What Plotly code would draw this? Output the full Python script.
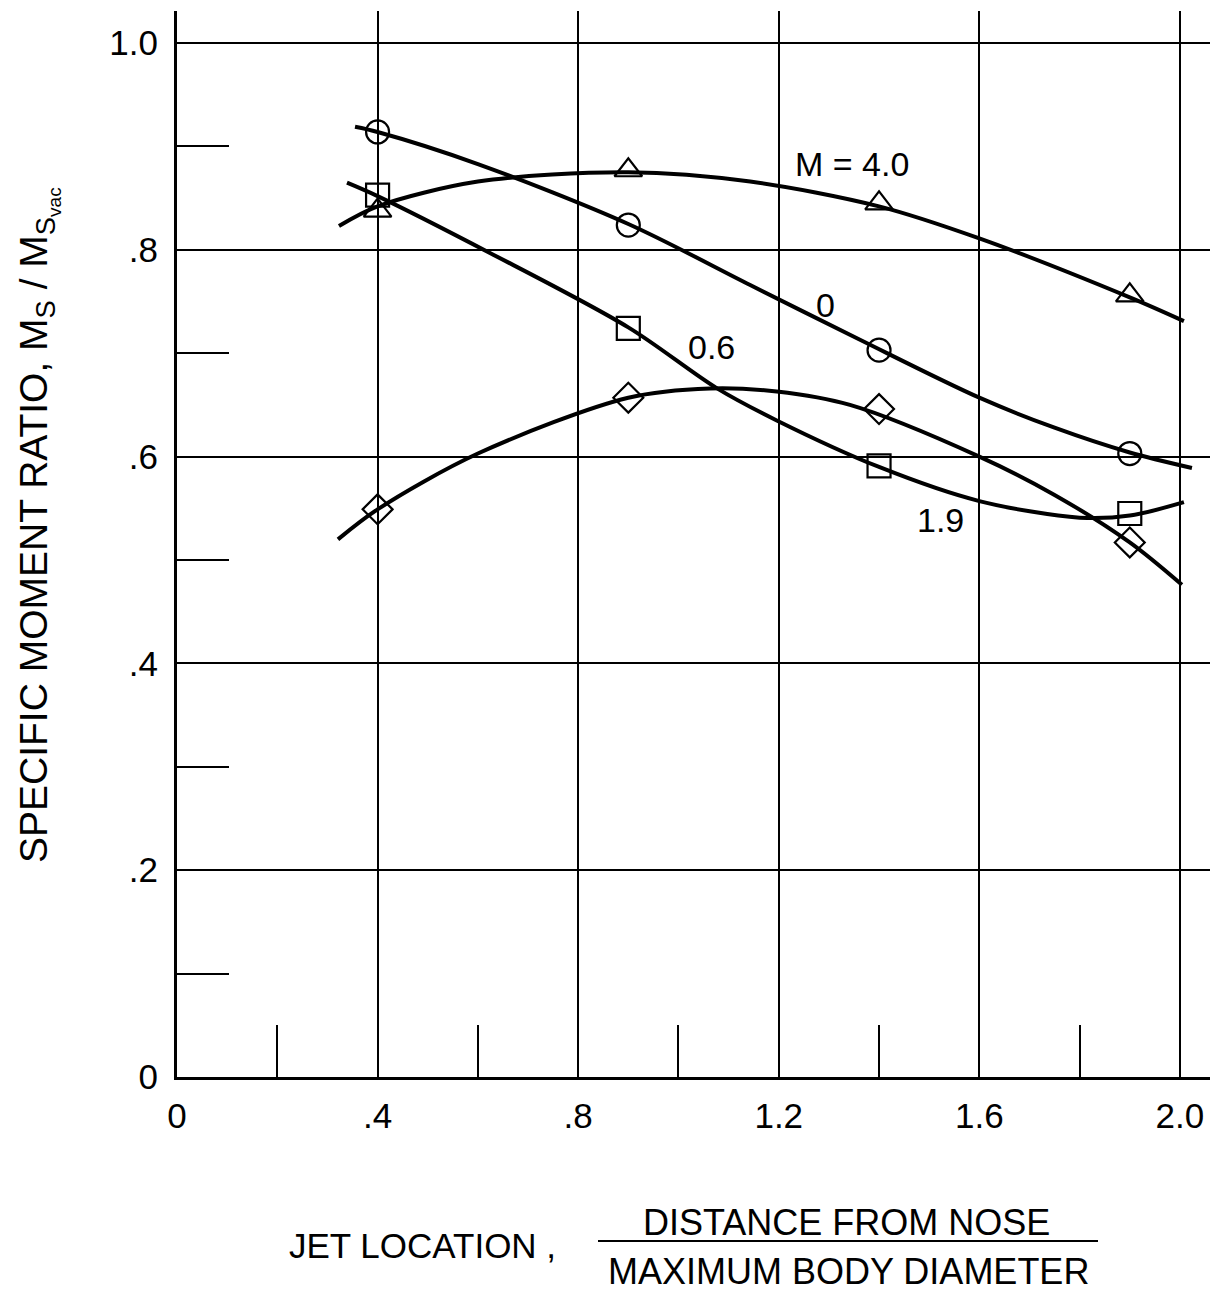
import plotly.graph_objects as go

# ---------------- data ----------------
jet_x = [0.4, 0.9, 1.4, 1.9]

m40_pts = [0.838, 0.877, 0.845, 0.756]   # triangles, M = 4.0
m0_pts = [0.914, 0.824, 0.703, 0.603]    # circles,   M = 0
m06_pts = [0.853, 0.724, 0.591, 0.545]   # squares,   M = 0.6
m19_pts = [0.549, 0.657, 0.646, 0.517]   # diamonds,  M = 1.9

# faired curves
m40_cx = [0.323, 0.4, 0.6, 0.9, 1.143, 1.4, 1.6, 1.9, 2.008]
m40_cy = [0.823, 0.842, 0.866, 0.875, 0.866, 0.842, 0.811, 0.754, 0.731]

m0_cx = [0.355, 0.4, 0.6, 0.9, 1.143, 1.362, 1.6, 1.75, 1.9, 2.024]
m0_cy = [0.919, 0.914, 0.883, 0.825, 0.766, 0.713, 0.657, 0.628, 0.604, 0.589]

m06_cx = [0.339, 0.4, 0.624, 0.9, 1.077, 1.196, 1.4, 1.6, 1.8, 1.9, 2.008]
m06_cy = [0.865, 0.852, 0.797, 0.725, 0.666, 0.635, 0.590, 0.557, 0.541, 0.543, 0.556]

m19_cx = [0.321, 0.4, 0.6, 0.9, 1.063, 1.196, 1.342, 1.6, 1.75, 1.9, 2.004]
m19_cy = [0.520, 0.549, 0.603, 0.657, 0.666, 0.663, 0.650, 0.600, 0.563, 0.517, 0.476]

x_tickvals = [0, 0.4, 0.8, 1.2, 1.6, 2.0]
x_ticktext = ["0", ".4", ".8", "1.2", "1.6", "2.0"]
x_minor = [0.2, 0.6, 1.0, 1.4, 1.8]
y_tickvals = [0, 0.2, 0.4, 0.6, 0.8, 1.0]
y_ticktext = ["0", ".2", ".4", ".6", ".8", "1.0"]
y_minor = [0.1, 0.3, 0.5, 0.7, 0.9]

# ---------------- layout geometry ----------------
OFF = 8                      # default page body margin
W, H = 1210, 1283
ML, MR, MT, MB = 169, 8, 3, 214
PW, PH = W - ML - MR, H - MT - MB


def px(xp):
    return (xp - OFF - ML) / PW


def py(yp):
    return (OFF + H - MB - yp) / PH


FONT = "Liberation Sans"
BLACK = "black"

fig = go.Figure()

curves = [(m40_cx, m40_cy), (m0_cx, m0_cy), (m06_cx, m06_cy), (m19_cx, m19_cy)]
for cx, cy in curves:
    fig.add_trace(go.Scatter(x=cx, y=cy, mode="lines",
                             line=dict(color=BLACK, width=4, shape="spline", smoothing=0.9),
                             showlegend=False, hoverinfo="skip"))

markers = [(m40_pts, "triangle-up-open", 24),
           (m0_pts, "circle-open", 23),
           (m06_pts, "square-open", 23),
           (m19_pts, "diamond-open", 23)]
for ys, sym, sz in markers:
    fig.add_trace(go.Scatter(x=jet_x, y=ys, mode="markers",
                             marker=dict(symbol=sym, size=sz, color=BLACK,
                                         line=dict(color=BLACK, width=2.2)),
                             showlegend=False, cliponaxis=False))

label_font = dict(family=FONT, size=34, color=BLACK)
for txt, xx, yy in [("M = 4.0", 1.346, 0.883), ("0", 1.294, 0.747),
                    ("0.6", 1.065, 0.706), ("1.9", 1.523, 0.539)]:
    fig.add_annotation(x=xx, y=yy, xref="x", yref="y", text=txt, showarrow=False,
                       font=label_font, xanchor="center", yanchor="middle")

# y-axis title
fig.add_annotation(x=px(38), y=py(525), xref="paper", yref="paper",
                   text="SPECIFIC MOMENT RATIO, M<sub>S</sub> / M<sub>S<sub>vac</sub></sub>",
                   textangle=-90, showarrow=False, xanchor="center", yanchor="middle",
                   font=dict(family=FONT, size=39, color=BLACK))

# x-axis title with fraction
title_font = dict(family=FONT, size=36, color=BLACK)
fig.add_annotation(x=px(422), y=py(1245), xref="paper", yref="paper",
                   text="JET LOCATION ,", showarrow=False, xanchor="center", yanchor="middle",
                   font=dict(family=FONT, size=35, color=BLACK))
fig.add_annotation(x=px(846), y=py(1222), xref="paper", yref="paper",
                   text="DISTANCE FROM NOSE", showarrow=False, xanchor="center", yanchor="middle",
                   font=title_font)
fig.add_annotation(x=px(848), y=py(1271), xref="paper", yref="paper",
                   text="MAXIMUM BODY DIAMETER", showarrow=False, xanchor="center", yanchor="middle",
                   font=title_font)
fig.add_shape(type="line", xref="paper", yref="paper",
              x0=px(598), x1=px(1098), y0=py(1241), y1=py(1241),
              line=dict(color=BLACK, width=2))

tick_font = dict(family=FONT, size=35, color=BLACK)
fig.update_xaxes(range=[0, 2.06], tickmode="array", tickvals=x_tickvals, ticktext=x_ticktext,
                 showgrid=True, gridcolor=BLACK, gridwidth=1.5, zeroline=False,
                 showline=True, linecolor=BLACK, linewidth=3, ticks="",
                 tickfont=tick_font, ticklabelstandoff=6,
                 minor=dict(tickmode="array", tickvals=x_minor, ticks="inside", ticklen=52,
                            tickwidth=1.5, tickcolor=BLACK, showgrid=False))
fig.update_yaxes(range=[0, 1.031], tickmode="array", tickvals=y_tickvals, ticktext=y_ticktext,
                 showgrid=True, gridcolor=BLACK, gridwidth=1.5, zeroline=False,
                 showline=True, linecolor=BLACK, linewidth=3, ticks="",
                 tickfont=tick_font, ticklabelstandoff=9,
                 minor=dict(tickmode="array", tickvals=y_minor, ticks="inside", ticklen=52,
                            tickwidth=1.5, tickcolor=BLACK, showgrid=False))

fig.update_layout(width=W, height=H, margin=dict(l=ML, r=MR, t=MT, b=MB),
                  plot_bgcolor="white", paper_bgcolor="white", showlegend=False)

fig.write_html("out.html")
